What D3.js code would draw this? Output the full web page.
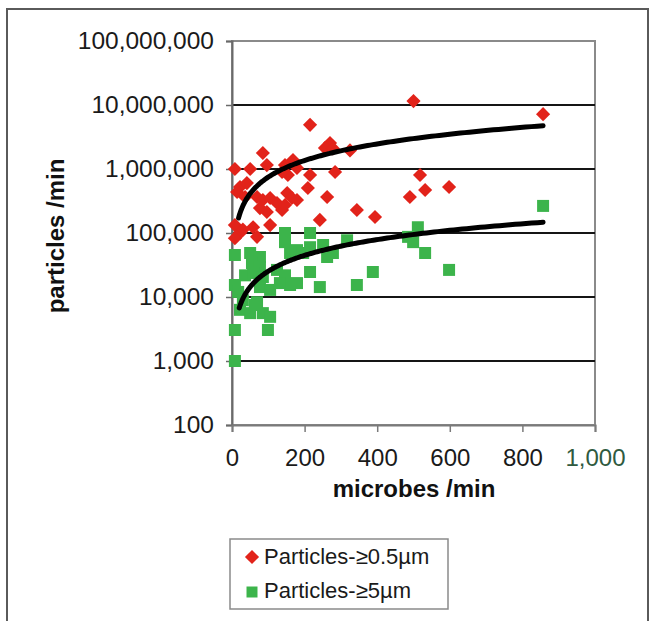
<!DOCTYPE html>
<html>
<head>
<meta charset="utf-8">
<script src="https://cdn.jsdelivr.net/npm/d3@7/dist/d3.min.js"></script>
<style>
  html, body { margin: 0; padding: 0; background: #fff; }
  svg { display: block; font-family: "Liberation Sans", Arial, sans-serif; }
</style>
</head>
<body>
<svg id="chart" width="654" height="621"></svg>
<script>
// Particles >= 0.5 µm per minute against microbes per minute
const fineX = [500, 857, 215, 270, 256, 278, 325, 85, 96, 8, 50, 146, 168, 179, 154, 138, 284, 215, 209,
  518, 532, 490, 598, 22, 41, 14, 36, 69, 85, 105, 124, 77, 96, 138, 152, 165, 179, 146, 262, 344, 394,
  242, 105, 8, 22, 8, 58, 69, 30];
const fineY = [11500000, 7200000, 4900000, 2550000, 2130000, 2100000, 1950000, 1780000, 1150000, 1000000,
  1000000, 1150000, 1380000, 1040000, 806000, 898000, 898000, 806000, 505000,
  806000, 470000, 365000, 523000, 523000, 603000, 437000, 365000, 365000, 328000, 352000, 294000, 245000,
  213000, 229000, 422000, 352000, 328000, 274000, 365000, 229000, 178000,
  160000, 133000, 133000, 100000, 83000, 123000, 87000, 113000];

// Particles >= 5 µm per minute against microbes per minute
const coarseX = [8, 50, 77, 146, 146, 215, 215, 179, 160, 196, 251, 278, 317, 262, 485, 512, 499, 532, 598,
  857, 55, 77, 36, 58, 85, 124, 146, 215, 242, 344, 388, 8, 17, 77, 105, 160, 179, 132, 30, 69, 22, 50,
  85, 105, 63, 8, 99, 8];
const coarseY = [45300, 48700, 42200, 100000, 72000, 100000, 60000, 54000, 48700, 48700, 65000, 48700,
  77000, 42200, 87000, 123000, 72000, 48700, 26500, 265000, 34000, 29400, 21800, 23700, 20500, 26500,
  21800, 24600, 14300, 15400, 24600, 15400, 12000, 14300, 12900, 15400, 16500, 16500, 8900, 8300, 6300,
  5600, 5600, 4900, 7500, 3050, 3050, 1000];

// Power-law trend lines y = a * x^b over the observed range of x
const trendFine = [14260, 0.86, 18, 857];
const trendCoarse = [580, 0.82, 20, 857];

const xTicks = [0, 200, 400, 600, 800, 1000];
const yTicks = [100, 1000, 10000, 100000, 1000000, 10000000, 100000000];
const seriesNames = ["Particles-\u22650.5\u00b5m", "Particles-\u22655\u00b5m"];

const svg = d3.select("#chart");
const fmt = d3.format(",");
const plotLeft = 232, plotRight = 595, plotTop = 41, plotBottom = 425;

const x = d3.scaleLinear().domain([0, 1000]).range([plotLeft, plotRight]);
const y = d3.scaleLog().domain([100, 100000000]).range([plotBottom, plotTop]);

const red = "#e2231a", green = "#3cb44b";

// outer frame
svg.append("rect")
  .attr("x", 7).attr("y", 9).attr("width", 641).attr("height", 640)
  .attr("fill", "#fff").attr("stroke", "#5a5a5a").attr("stroke-width", 2);

// plot frame
svg.append("rect")
  .attr("x", plotLeft).attr("y", plotTop)
  .attr("width", plotRight - plotLeft).attr("height", plotBottom - plotTop)
  .attr("fill", "#fff").attr("stroke", "#8a8a8a").attr("stroke-width", 2);

// horizontal gridlines
svg.append("g").selectAll("line")
  .data(yTicks.filter(v => v > 100 && v < 100000000))
  .join("line")
  .attr("x1", plotLeft).attr("x2", plotRight)
  .attr("y1", d => y(d)).attr("y2", d => y(d))
  .attr("stroke", "#151515").attr("stroke-width", 2);

// y axis
const yAxis = svg.append("g")
  .attr("transform", `translate(${plotLeft},0)`)
  .call(d3.axisLeft(y).tickValues(yTicks).tickFormat(fmt).tickSize(6).tickPadding(12));
yAxis.select(".domain").attr("stroke", "#6a6a6a").attr("stroke-width", 2);
yAxis.selectAll(".tick line").attr("stroke", "#6a6a6a").attr("stroke-width", 1.5);
yAxis.selectAll(".tick text")
  .attr("font-size", 24.5).attr("fill", "#1a1a1a")
  .attr("font-family", "Liberation Sans, Arial, sans-serif");

// x axis
const xAxis = svg.append("g")
  .attr("transform", `translate(0,${plotBottom})`)
  .call(d3.axisBottom(x).tickValues(xTicks).tickFormat(fmt).tickSize(7).tickPadding(17));
xAxis.select(".domain").attr("stroke", "#7a7a7a").attr("stroke-width", 2);
xAxis.selectAll(".tick line").attr("stroke", "#7a7a7a").attr("stroke-width", 1.5);
xAxis.selectAll(".tick text")
  .attr("font-size", 24)
  .attr("fill", d => d === 1000 ? "#2f5a40" : "#1a1a1a")
  .attr("font-family", "Liberation Sans, Arial, sans-serif");

// axis titles
svg.append("text")
  .attr("x", 414).attr("y", 497)
  .attr("text-anchor", "middle")
  .attr("font-size", 24).attr("font-weight", "bold").attr("fill", "#111")
  .text("microbes /min");

svg.append("text")
  .attr("transform", "translate(64,236) rotate(-90)")
  .attr("text-anchor", "middle")
  .attr("font-size", 24).attr("font-weight", "bold").attr("fill", "#111")
  .text("particles /min");

// markers
const diamond = d3.symbol().type(d3.symbolSquare).size(100)();
const square = d3.symbol().type(d3.symbolSquare).size(144)();

const plot = svg.append("g");

plot.append("g").selectAll("path")
  .data(coarseX.map((v, i) => [v, coarseY[i]]))
  .join("path")
  .attr("d", square)
  .attr("transform", d => `translate(${x(d[0])},${y(d[1])})`)
  .attr("fill", green);

plot.append("g").selectAll("path")
  .data(fineX.map((v, i) => [v, fineY[i]]))
  .join("path")
  .attr("d", diamond)
  .attr("transform", d => `translate(${x(d[0])},${y(d[1])}) rotate(45)`)
  .attr("fill", red);

// trend lines
function trendPoints(t) {
  const [a, b, x0, x1] = t;
  return d3.range(0, 201).map(i => {
    const xv = x0 * Math.pow(x1 / x0, i / 200);
    return [xv, a * Math.pow(xv, b)];
  });
}
const line = d3.line().x(d => x(d[0])).y(d => y(d[1]));
[trendFine, trendCoarse].forEach(t => {
  plot.append("path")
    .attr("d", line(trendPoints(t)))
    .attr("fill", "none")
    .attr("stroke", "#000")
    .attr("stroke-width", 5)
    .attr("stroke-linecap", "round")
    .attr("stroke-linejoin", "round");
});

// legend
const lg = svg.append("g");
lg.append("rect")
  .attr("x", 230).attr("y", 539).attr("width", 218).attr("height", 70)
  .attr("fill", "#fff").attr("stroke", "#8a8a8a").attr("stroke-width", 1.5);
lg.append("path").attr("d", diamond)
  .attr("transform", "translate(252,557) rotate(45)").attr("fill", red);
lg.append("path").attr("d", d3.symbol().type(d3.symbolSquare).size(121)())
  .attr("transform", "translate(252,592)").attr("fill", green);
lg.selectAll("text.item")
  .data(seriesNames)
  .join("text")
  .attr("class", "item")
  .attr("x", 264)
  .attr("y", (d, i) => 564 + i * 34)
  .attr("font-size", 22).attr("fill", "#1a1a1a")
  .text(d => d);
</script>
</body>
</html>
